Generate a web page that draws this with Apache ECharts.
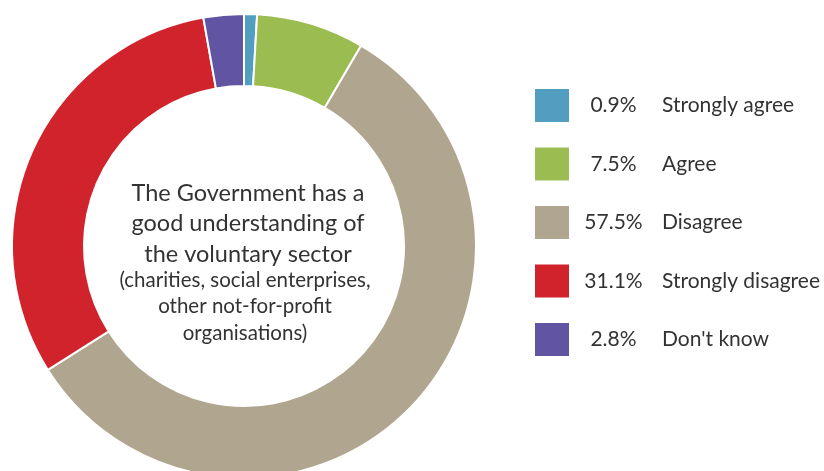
<!DOCTYPE html>
<html>
<head>
<meta charset="utf-8">
<script src="https://cdn.jsdelivr.net/npm/echarts@6/dist/echarts.min.js"></script>
<style>
  html, body { margin: 0; padding: 0; background: #fff; }
  #chart { width: 824px; height: 471px; }
</style>
</head>
<body>
<div id="chart"></div>
<script>
// Survey responses: "The Government has a good understanding of the voluntary sector"
const categories = ['Strongly agree', 'Agree', 'Disagree', 'Strongly disagree', "Don't know"];
const shares = [0.9, 7.5, 57.5, 31.1, 2.8];
const palette = ['#519ec0', '#9bbc50', '#b0a58e', '#d1232b', '#6054a3'];

const FONT = 'Lato, "Open Sans", sans-serif';

const shareByName = {};
categories.forEach((c, i) => { shareByName[c] = shares[i]; });

const chart = echarts.init(document.getElementById('chart'), null, { renderer: 'canvas' });

chart.setOption({
  animation: false,
  color: palette,
  legend: {
    orient: 'vertical',
    left: 528,
    top: 82,
    itemWidth: 36,
    itemHeight: 35,
    itemGap: 21.5,
    icon: 'rect',
    selectedMode: false,
    data: categories,
    formatter: name => '{p|' + shareByName[name].toFixed(1) + '%}{n|' + name + '}',
    textStyle: {
      fontFamily: FONT,
      rich: {
        p: { width: 77, align: 'right', fontSize: 21, lineHeight: 30, color: '#333', fontFamily: FONT },
        n: { padding: [0, 0, 0, 10], fontSize: 21, lineHeight: 30, color: '#333', fontFamily: FONT }
      }
    }
  },
  graphic: [
    {
      type: 'text',
      left: 248 - 130,
      top: 178,
      style: {
        text: 'The Government has a\ngood understanding of\nthe voluntary sector',
        width: 260,
        align: 'center',
        textAlign: 'center',
        x: 130,
        fontFamily: FONT,
        fontSize: 23.5,
        lineHeight: 30.5,
        fill: '#333'
      }
    },
    {
      type: 'text',
      left: 245 - 140,
      top: 267,
      style: {
        text: '(charities, social enterprises,\nother not-for-profit\norganisations)',
        width: 280,
        align: 'center',
        textAlign: 'center',
        x: 140,
        fontFamily: FONT,
        fontSize: 20.5,
        lineHeight: 26.5,
        fill: '#333'
      }
    }
  ],
  series: [
    {
      type: 'pie',
      center: [244, 246],
      radius: [160, 232],
      startAngle: 90,
      clockwise: true,
      silent: true,
      label: { show: false },
      labelLine: { show: false },
      itemStyle: { borderColor: '#fff', borderWidth: 2 },
      data: categories.map((c, i) => ({ name: c, value: shares[i] }))
    }
  ]
});
</script>
</body>
</html>
